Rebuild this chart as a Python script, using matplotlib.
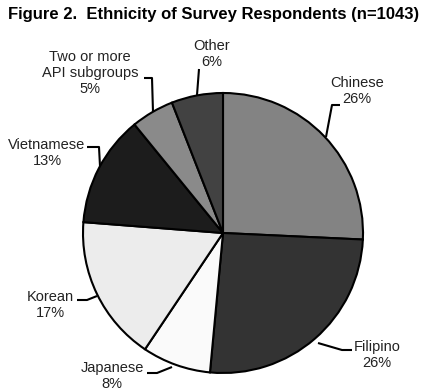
import matplotlib
matplotlib.use("Agg")
import matplotlib.pyplot as plt

# Survey respondents by ethnicity (percent)
categories = ["Chinese", "Filipino", "Japanese", "Korean", "Vietnamese",
              "Two or more\nAPI subgroups", "Other"]
percents = [26, 26, 8, 17, 13, 5, 6]
colors = ["#838383", "#333333", "#fafafa", "#ececec", "#1c1c1c", "#8a8a8a", "#424242"]

W, H = 428, 391
CX, CY, R = 223, 233, 140

def px(x, y):
    """Pixel position (origin top-left) to data units of the pie axes."""
    return (x - CX) / R, (CY - y) / R

# label centres and leader polylines, in pixels
label_pos = [(357, 91), (377, 355), (112, 376), (50, 305), (47, 153), (90, 73), (212, 54)]
leaders = [
    [(326, 137), (332, 105), (340, 105)],
    [(318, 343), (342, 350), (352, 350)],
    [(172, 367), (157, 373), (147, 373)],
    [(97, 296), (87, 300), (77, 300)],
    [(100, 166), (99, 147), (87, 147)],
    [(153, 112), (152, 78), (144, 78)],
    [(197, 95), (199, 69)],
]

plt.rcParams["font.family"] = ["Liberation Sans", "DejaVu Sans"]
fig = plt.figure(figsize=(W / 100, H / 100), dpi=100)
ax = fig.add_axes([0, 0, 1, 1])
ax.set_xlim(px(0, 0)[0], px(W, 0)[0])
ax.set_ylim(px(0, H)[1], px(0, 0)[1])
ax.axis("off")

ax.pie(percents, colors=colors, startangle=90, counterclock=False, radius=1,
       wedgeprops=dict(edgecolor="black", linewidth=1.5))
ax.set_xlim(px(0, 0)[0], px(W, 0)[0])
ax.set_ylim(px(0, H)[1], px(0, 0)[1])
ax.set_aspect("auto")

for name, pct, (lx, ly), path in zip(categories, percents, label_pos, leaders):
    ax.text(*px(lx, ly), f"{name}\n{pct}%", ha="center", va="center",
            fontsize=10.5, color="#222222", linespacing=1.15)
    xs, ys = zip(*[px(x, y) for x, y in path])
    ax.plot(xs, ys, color="black", linewidth=1.5, solid_capstyle="butt")

fig.text(0.5, 1 - 15 / H, "Figure 2.  Ethnicity of Survey Respondents (n=1043)",
         ha="center", va="center", fontsize=12, fontweight="bold", color="black")

fig.savefig("out.png", dpi=100)
